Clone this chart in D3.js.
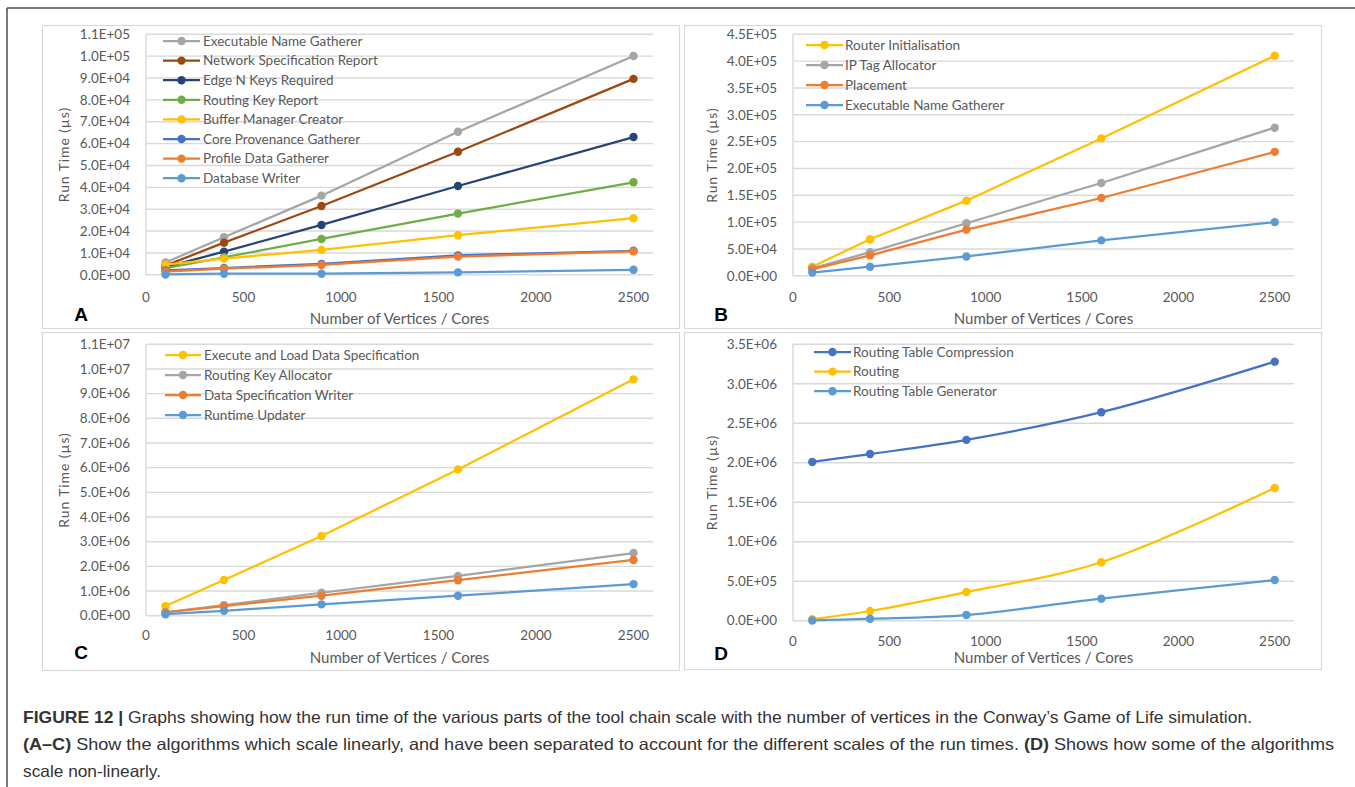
<!DOCTYPE html>
<html>
<head>
<meta charset="utf-8">
<script src="https://cdn.jsdelivr.net/npm/d3@7"></script>
<style>
  html, body { margin: 0; padding: 0; background: #fff; }
  svg { display: block; }
</style>
</head>
<body>
<svg id="chart" width="1355" height="787"></svg>
<script>
// ---------------- DATA ----------------
const xValues = [100, 400, 900, 1600, 2500];
const xTicks = [0, 500, 1000, 1500, 2000, 2500];

// Panel A
const namesA = ["Executable Name Gatherer", "Network Specification Report", "Edge N Keys Required",
  "Routing Key Report", "Buffer Manager Creator", "Core Provenance Gatherer",
  "Profile Data Gatherer", "Database Writer"];
const valuesA = [
  [5600, 17200, 36200, 65400, 100100],
  [4200, 14700, 31500, 56300, 89600],
  [3500, 10600, 22800, 40600, 63000],
  [3000, 8000, 16400, 28000, 42300],
  [4600, 7400, 11400, 18100, 25900],
  [2000, 3100, 5000, 8900, 11000],
  [1500, 2800, 4500, 8300, 10700],
  [150, 500, 500, 1100, 2300]
];
const colorsA = ["#a5a5a5", "#9e480e", "#264478", "#70ad47", "#ffc000", "#4472c4", "#ed7d31", "#5b9bd5"];
const yTicksA = [0, 1e4, 2e4, 3e4, 4e4, 5e4, 6e4, 7e4, 8e4, 9e4, 1e5, 1.1e5];

// Panel B
const namesB = ["Router Initialisation", "IP Tag Allocator", "Placement", "Executable Name Gatherer"];
const valuesB = [
  [17000, 68000, 140000, 256000, 410000],
  [14000, 44000, 98000, 173000, 276000],
  [12500, 38000, 86000, 145000, 231000],
  [6000, 17000, 36000, 66000, 100000]
];
const colorsB = ["#ffc000", "#a5a5a5", "#ed7d31", "#5b9bd5"];
const yTicksB = [0, 5e4, 1e5, 1.5e5, 2e5, 2.5e5, 3e5, 3.5e5, 4e5, 4.5e5];

// Panel C
const namesC = ["Execute and Load Data Specification", "Routing Key Allocator", "Data Specification Writer", "Runtime Updater"];
const valuesC = [
  [390000, 1450000, 3230000, 5930000, 9580000],
  [140000, 430000, 930000, 1610000, 2540000],
  [130000, 390000, 810000, 1440000, 2260000],
  [60000, 200000, 460000, 810000, 1280000]
];
const colorsC = ["#ffc000", "#a5a5a5", "#ed7d31", "#5b9bd5"];
const yTicksC = [0, 1e6, 2e6, 3e6, 4e6, 5e6, 6e6, 7e6, 8e6, 9e6, 1e7, 1.1e7];

// Panel D
const namesD = ["Routing Table Compression", "Routing", "Routing Table Generator"];
const valuesD = [
  [2010000, 2110000, 2290000, 2640000, 3280000],
  [20000, 123000, 363000, 740000, 1680000],
  [3000, 25000, 72000, 279000, 515000]
];
const colorsD = ["#4472c4", "#ffc000", "#5b9bd5"];
const yTicksD = [0, 5e5, 1e6, 1.5e6, 2e6, 2.5e6, 3e6, 3.5e6];

const captionBold1 = "FIGURE 12 |";
const captionText1 = " Graphs showing how the run time of the various parts of the tool chain scale with the number of vertices in the Conway\u2019s Game of Life simulation.";
const captionBold2a = "(A\u2013C)";
const captionText2a = " Show the algorithms which scale linearly, and have been separated to account for the different scales of the run times. ";
const captionBold2b = "(D)";
const captionText2b = " Shows how some of the algorithms";
const captionText3 = "scale non-linearly.";

// ---------------- DRAW ----------------
const svg = d3.select("#chart");
const FONT = "Lato, 'Open Sans', sans-serif";
const TXT = "#595959";
const GRID = "#d9d9d9";

function sci(d) {
  if (d === 0) return "0.0E+00";
  const e = Math.floor(Math.log10(d) + 1e-9);
  const m = d / Math.pow(10, e);
  return m.toFixed(1) + "E+" + String(e).padStart(2, "0");
}

// outer frame
svg.append("line").attr("x1", 7).attr("x2", 1355).attr("y1", 8).attr("y2", 8)
  .attr("stroke", "#4d4d4d").attr("stroke-width", 1.5);
svg.append("line").attr("x1", 7).attr("x2", 7).attr("y1", 8).attr("y2", 787)
  .attr("stroke", "#4d4d4d").attr("stroke-width", 1.5);

const panels = [
  { letter: "A", names: namesA, values: valuesA, colors: colorsA, ticks: yTicksA, smooth: false,
    box: [42, 25, 679, 328], plot: [146, 653, 34.3, 274.8], ymax: 1.1e5,
    xLabY: 297, xTitleY: 319, letterPos: [81, 314], yTitleX: 64,
    legend: { x1: 163, x2: 200, tx: 203, y0: 41, dy: 19.6 } },
  { letter: "B", names: namesB, values: valuesB, colors: colorsB, ticks: yTicksB, smooth: false,
    box: [684, 25, 1321, 328], plot: [793, 1294, 34.3, 275.8], ymax: 4.5e5,
    xLabY: 297, xTitleY: 319, letterPos: [721, 314], yTitleX: 712,
    legend: { x1: 806, x2: 843, tx: 845, y0: 45, dy: 20 } },
  { letter: "C", names: namesC, values: valuesC, colors: colorsC, ticks: yTicksC, smooth: false,
    box: [42, 332, 679, 670], plot: [146, 653, 344.3, 615.7], ymax: 1.1e7,
    xLabY: 635, xTitleY: 658, letterPos: [81, 652], yTitleX: 64,
    legend: { x1: 165, x2: 201, tx: 204, y0: 355, dy: 20 } },
  { letter: "D", names: namesD, values: valuesD, colors: colorsD, ticks: yTicksD, smooth: true,
    box: [684, 332, 1321, 669], plot: [793, 1294, 344.3, 620.7], ymax: 3.5e6,
    xLabY: 641, xTitleY: 658, letterPos: [721, 653], yTitleX: 712,
    legend: { x1: 814, x2: 851, tx: 853, y0: 352, dy: 19.6 } }
];

panels.forEach(p => {
  const g = svg.append("g");
  const [bx0, by0, bx1, by1] = p.box;
  g.append("rect").attr("x", bx0 + 0.5).attr("y", by0 + 0.5)
    .attr("width", bx1 - bx0).attr("height", by1 - by0)
    .attr("fill", "#fff").attr("stroke", GRID).attr("stroke-width", 1.2);

  const [px0, px1, py0, py1] = p.plot;
  const x = d3.scaleLinear().domain([0, 2600]).range([px0, px1]);
  const y = d3.scaleLinear().domain([0, p.ymax]).range([py1, py0]);

  // gridlines
  g.selectAll(".grid").data(p.ticks).enter().append("line")
    .attr("x1", px0).attr("x2", px1)
    .attr("y1", d => y(d)).attr("y2", d => y(d))
    .attr("stroke", GRID).attr("stroke-width", 1.4);
  // y axis line
  g.append("line").attr("x1", px0).attr("x2", px0).attr("y1", py0).attr("y2", py1)
    .attr("stroke", GRID).attr("stroke-width", 1.4);

  // y tick labels
  g.selectAll(".yl").data(p.ticks).enter().append("text")
    .attr("x", px0 - 16).attr("y", d => y(d)).attr("dy", "0.35em")
    .attr("text-anchor", "end").attr("font-family", FONT).attr("font-size", 13.5)
    .attr("fill", TXT).text(sci);

  // x tick labels
  g.selectAll(".xl").data(xTicks).enter().append("text")
    .attr("x", d => x(d)).attr("y", p.xLabY).attr("dy", "0.35em")
    .attr("text-anchor", "middle").attr("font-family", FONT).attr("font-size", 13.5)
    .attr("fill", TXT).text(d => d);

  // x title
  g.append("text").attr("x", (px0 + px1) / 2).attr("y", p.xTitleY).attr("dy", "0.35em")
    .attr("text-anchor", "middle").attr("font-family", FONT).attr("font-size", 15)
    .attr("fill", TXT).text("Number  of Vertices / Cores");

  // y title
  g.append("text")
    .attr("transform", `translate(${p.yTitleX},${(py0 + py1) / 2}) rotate(-90)`)
    .attr("dy", "0.35em").attr("text-anchor", "middle")
    .attr("font-family", FONT).attr("font-size", 14).attr("letter-spacing", 0.9)
    .attr("fill", TXT).text("Run Time (\u00b5s)");

  // panel letter
  g.append("text").attr("x", p.letterPos[0]).attr("y", p.letterPos[1]).attr("dy", "0.36em")
    .attr("text-anchor", "middle").attr("font-family", "'Liberation Sans', Arial, sans-serif")
    .attr("font-weight", "bold").attr("font-size", 19).attr("fill", "#000").text(p.letter);

  // series
  const line = d3.line().x(d => x(d[0])).y(d => y(d[1]))
    .curve(p.smooth ? d3.curveCatmullRom.alpha(0.5) : d3.curveLinear);
  p.values.forEach((vals, i) => {
    const pts = xValues.map((xv, j) => [xv, vals[j]]);
    g.append("path").attr("d", line(pts)).attr("fill", "none")
      .attr("stroke", p.colors[i]).attr("stroke-width", 2.25).attr("stroke-linejoin", "round");
    g.selectAll(null).data(pts).enter().append("circle")
      .attr("cx", d => x(d[0])).attr("cy", d => y(d[1])).attr("r", 4.2)
      .attr("fill", p.colors[i]);
  });

  // legend
  const L = p.legend;
  p.names.forEach((nm, i) => {
    const yy = L.y0 + i * L.dy;
    g.append("line").attr("x1", L.x1).attr("x2", L.x2).attr("y1", yy).attr("y2", yy)
      .attr("stroke", p.colors[i]).attr("stroke-width", 2.25);
    g.append("circle").attr("cx", (L.x1 + L.x2) / 2).attr("cy", yy).attr("r", 4.2)
      .attr("fill", p.colors[i]);
    g.append("text").attr("x", L.tx).attr("y", yy).attr("dy", "0.35em")
      .attr("font-family", FONT).attr("font-size", 13.5).attr("fill", TXT).text(nm);
  });
});

// caption
const capFont = "'Liberation Sans', Arial, sans-serif";
const capColor = "#333";
const c1 = svg.append("text").attr("x", 23).attr("y", 723)
  .attr("font-family", capFont).attr("font-size", 16.5).attr("fill", capColor)
  .attr("textLength", 1229).attr("lengthAdjust", "spacingAndGlyphs");
c1.append("tspan").attr("font-weight", "bold").text(captionBold1);
c1.append("tspan").text(captionText1);

const c2 = svg.append("text").attr("x", 23).attr("y", 750)
  .attr("font-family", capFont).attr("font-size", 16.5).attr("fill", capColor)
  .attr("textLength", 1311).attr("lengthAdjust", "spacingAndGlyphs");
c2.append("tspan").attr("font-weight", "bold").text(captionBold2a);
c2.append("tspan").text(captionText2a);
c2.append("tspan").attr("font-weight", "bold").text(captionBold2b);
c2.append("tspan").text(captionText2b);

svg.append("text").attr("x", 23).attr("y", 777)
  .attr("font-family", capFont).attr("font-size", 16.5).attr("fill", capColor)
  .attr("textLength", 138).attr("lengthAdjust", "spacingAndGlyphs")
  .text(captionText3);
</script>
</body>
</html>
